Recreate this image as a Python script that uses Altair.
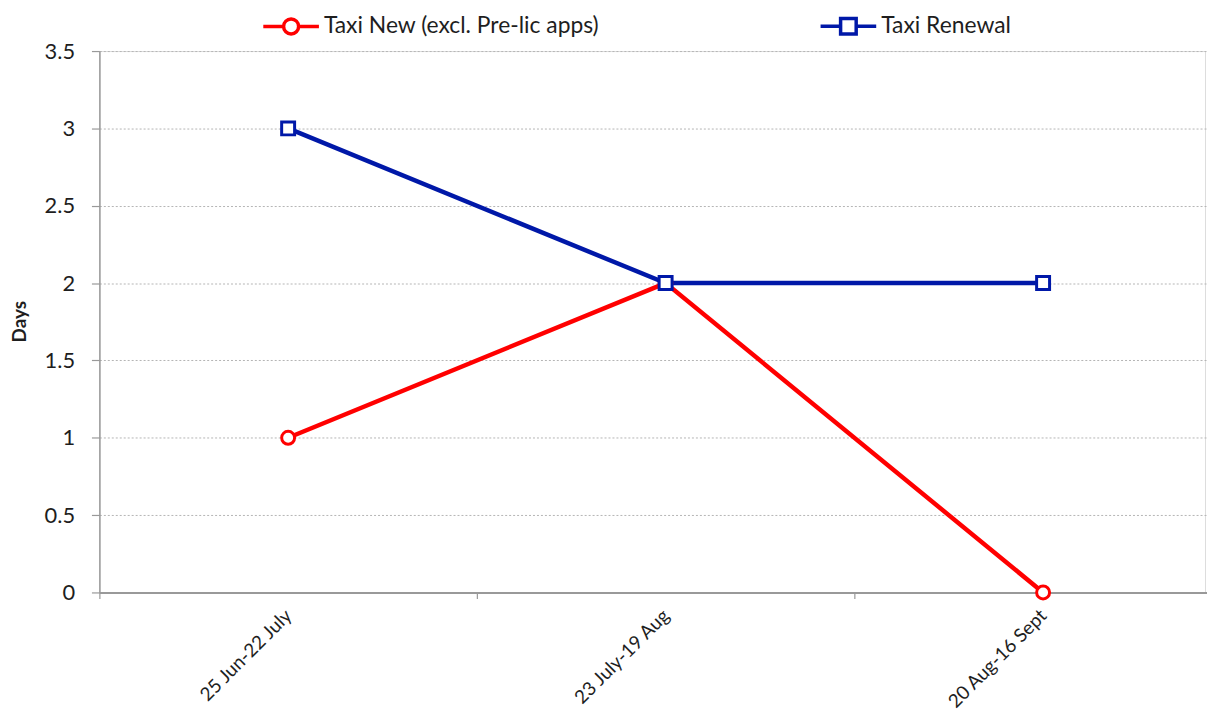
import altair as alt
import pandas as pd

# ---- data ----
periods = ["25 Jun-22 July", "23 July-19 Aug", "20 Aug-16 Sept"]
series_new = "Taxi New (excl. Pre-lic apps)"
series_renew = "Taxi Renewal"
new_values = [1, 2, 0]
renew_values = [3, 2, 2]
y_ticks = [0, 0.5, 1, 1.5, 2, 2.5, 3, 3.5]

rows = []
for s, vals in [(series_new, new_values), (series_renew, renew_values)]:
    for p, v in zip(periods, vals):
        rows.append({"period": p, "series": s, "days": v})
df = pd.DataFrame(rows)

# ---- style ----
FONT = "Lato"
TXT = "#1e1e1e"
RED = "#ff0000"
BLUE = "#0018a8"
AX = "#999999"

# legend symbols: line + marker (path units in [-1, 1])
r = 0.27
k = 0.5523 * r
circle_path = (
    f"M-1,0L{-r},0M{r},0L1,0"
    f"M{r},0C{r},{k} {k},{r} 0,{r}C{-k},{r} {-r},{k} {-r},0"
    f"C{-r},{-k} {-k},{-r} 0,{-r}C{k},{-r} {r},{-k} {r},0Z"
)
h = 0.28
square_path = f"M-1,0L{-h},0M{h},0L1,0M{-h},{-h}L{h},{-h}L{h},{h}L{-h},{h}Z"

x_enc = alt.X(
    "period:N",
    sort=periods,
    bandPosition=0.5,
    scale=alt.Scale(type="band", domain=periods, range=[0, 1140],
                    paddingInner=0, paddingOuter=0),
    axis=alt.Axis(title=None, labelAngle=-45, labelAlign="right",
                  labelBaseline="middle", labelFontSize=19, labelPadding=14,
                  labelFont=FONT, labelColor=TXT, tickBand="extent",
                  tickSize=6, tickColor=AX, tickWidth=1.2, domainColor=AX,
                  domainWidth=2, grid=False),
)
y_enc = alt.Y(
    "days:Q",
    scale=alt.Scale(domain=[0, 3.5], nice=False),
    axis=alt.Axis(title="Days", values=y_ticks, format="~g", tickSize=8,
                  labelPadding=17, labelFontSize=22, labelFont=FONT,
                  labelColor=TXT, tickColor=AX, tickWidth=1.2,
                  domainColor=AX, domainWidth=1.5, grid=True,
                  gridDash=[2, 2], gridColor="#b4b4b4", gridWidth=1,
                  titleFont=FONT, titleFontSize=19, titleFontWeight="bold",
                  titleColor=TXT, titleX=-80, titleY=272,
                  titleBaseline="middle", titleAlign="center"),
)

legend_def = alt.Legend(
    title=None, orient="none", legendX=163, legendY=-55,
    direction="horizontal", symbolSize=3136, symbolStrokeWidth=3.5,
    labelFont=FONT, labelFontSize=23, labelColor=TXT, labelOffset=3,
    columnPadding=215, padding=0, labelLimit=0,
)

base = alt.Chart(df)


def series_layers(name, col, shape, size):
    sub = base.transform_filter(alt.datum.series == name)
    line = sub.mark_line(strokeWidth=4.5, color=col).encode(x=x_enc, y=y_enc)
    pts = sub.mark_point(shape=shape, filled=False, fill="white", stroke=col,
                         size=size, strokeWidth=3, opacity=1).encode(x=x_enc, y=y_enc)
    return line, pts


line_new, pts_new = series_layers(series_new, RED, "circle", 170)
line_renew, pts_renew = series_layers(series_renew, BLUE, "square", 170)

legend_layer = base.transform_filter("false").mark_point(
    filled=False, strokeWidth=3.5, opacity=1,
).encode(
    x=x_enc, y=y_enc,
    color=alt.Color("series:N",
                    scale=alt.Scale(domain=[series_new, series_renew],
                                    range=[RED, BLUE]),
                    legend=legend_def),
    shape=alt.Shape("series:N",
                    scale=alt.Scale(domain=[series_new, series_renew],
                                    range=[circle_path, square_path]),
                    legend=legend_def),
)

chart = alt.layer(line_new, line_renew, pts_new, pts_renew, legend_layer).properties(
    width=1113, height=545,
    autosize=alt.AutoSizeParams(type="none"),
    padding={"left": 92, "top": 41, "right": 2, "bottom": 117},
).configure_view(stroke=None).configure(background="white")

chart.save("out.html", embed_options={"renderer": "svg", "actions": False})
